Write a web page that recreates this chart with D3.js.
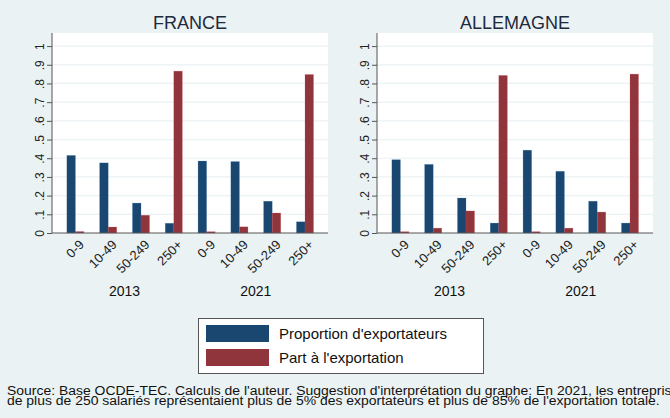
<!DOCTYPE html>
<html>
<head>
<meta charset="utf-8">
<script src="https://cdn.jsdelivr.net/npm/d3@7"></script>
<style>
  body { margin: 0; background: #eaf2f3; }
  svg { display: block; font-family: 'Liberation Sans', Arial, sans-serif; }
</style>
</head>
<body>
<div class="chart"></div>
<script>
// categories
const sizes = ['0-9', '10-49', '50-249', '250+']
const years = ['2013', '2021']
const countries = ['FRANCE', 'ALLEMAGNE']
const series = ["Proportion d'exportateurs", "Part à l'exportation"]
const yTicks = [0, 0.1, 0.2, 0.3, 0.4, 0.5, 0.6, 0.7, 0.8, 0.9, 1]

// values, 2013 then 2021, sizes in order
const francePropExp = [0.415, 0.375, 0.16, 0.052, 0.385, 0.382, 0.17, 0.06]
const francePartExp = [0.008, 0.032, 0.095, 0.866, 0.007, 0.033, 0.107, 0.848]
const allemagnePropExp = [0.392, 0.367, 0.187, 0.053, 0.443, 0.33, 0.17, 0.053]
const allemagnePartExp = [0.007, 0.026, 0.118, 0.843, 0.007, 0.026, 0.112, 0.85]

const colors = ['#1a476f', '#90353b']
const width = 670
const height = 418

const svg = d3
  .select('.chart')
  .append('svg')
  .attr('width', width)
  .attr('height', height)

svg.append('rect').attr('width', width).attr('height', height).attr('fill', '#eaf2f3')

const plotTop = 33
const plotBottom = 233
const plotW = 276
const panels = [
  { name: countries[0], left: 52, values: [francePropExp, francePartExp] },
  { name: countries[1], left: 377, values: [allemagnePropExp, allemagnePartExp] },
]

const keys = []
years.forEach((yr) => sizes.forEach((s) => keys.push(yr + '|' + s)))

let y = d3.scaleLinear().domain([0, 1.07]).range([plotBottom, plotTop])

panels.forEach((p) => {
  const g = svg.append('g').attr('transform', `translate(${p.left},0)`)

  let x = d3
    .scaleBand()
    .domain(keys)
    .range([7, 7 + 32.8 * 8])
    .paddingInner(0.48)
    .paddingOuter(0.24)
  let xs = d3.scaleBand().domain([0, 1]).range([0, x.bandwidth()])

  // plot region
  g.append('rect')
    .attr('x', 0)
    .attr('y', plotTop)
    .attr('width', plotW)
    .attr('height', plotBottom - plotTop)
    .attr('fill', '#ffffff')

  // grid
  g.append('g')
    .selectAll('line')
    .data(yTicks.slice(1))
    .enter()
    .append('line')
    .attr('x1', 0)
    .attr('x2', plotW)
    .attr('y1', (d) => y(d))
    .attr('y2', (d) => y(d))
    .style('stroke', '#eaf2f3')
    .style('stroke-width', 1.2)

  // bars
  p.values.forEach((vals, si) => {
    g.append('g')
      .selectAll('rect')
      .data(vals)
      .enter()
      .append('rect')
      .attr('x', (d, i) => x(keys[i]) + xs(si))
      .attr('y', (d) => y(d))
      .attr('width', xs.bandwidth())
      .attr('height', (d) => y(0) - y(d))
      .style('fill', colors[si])
      .style('stroke', d3.color(colors[si]).brighter(1.2))
      .style('stroke-opacity', 0.35)
      .style('stroke-width', 0.6)
  })

  // y axis
  const yAxis = g
    .append('g')
    .attr('class', 'y-axis')
    .call(
      d3
        .axisLeft(y)
        .tickValues(yTicks)
        .tickSize(5)
        .tickPadding(0)
        .tickFormat((d) => (d === 0 ? '0' : d === 1 ? '1' : d3.format('.1f')(d).replace(/^0/, '')))
    )
  yAxis.select('.domain').attr('d', `M0,${plotTop}V${plotBottom}`).style('stroke', '#555')
  yAxis.selectAll('.tick line').style('stroke', '#555')
  yAxis
    .selectAll('.tick text')
    .attr('transform', 'translate(-12,0) rotate(-90)')
    .attr('x', 0)
    .attr('dy', '0.35em')
    .attr('text-anchor', 'middle')
    .style('font-size', '12px')
    .style('fill', '#222')
    .style('font-family', "'Liberation Sans', Arial, sans-serif")

  // x axis line
  g.append('line')
    .attr('x1', 0)
    .attr('x2', plotW)
    .attr('y1', plotBottom)
    .attr('y2', plotBottom)
    .style('stroke', '#555')
    .style('stroke-width', 1)

  // size labels
  g.append('g')
    .selectAll('text')
    .data(keys)
    .enter()
    .append('text')
    .attr('transform', (d) => `translate(${x(d) + x.bandwidth() / 2 + 3},${plotBottom + 6}) rotate(-45)`)
    .attr('text-anchor', 'end')
    .attr('dy', '0.7em')
    .style('font-size', '13px')
    .style('fill', '#222')
    .text((d) => d.split('|')[1])

  // year labels
  years.forEach((yr) => {
    const first = x(yr + '|' + sizes[0]) + x.bandwidth() / 2
    const last = x(yr + '|' + sizes[sizes.length - 1]) + x.bandwidth() / 2
    g.append('text')
      .attr('x', (first + last) / 2)
      .attr('y', 296)
      .attr('text-anchor', 'middle')
      .style('font-size', '14px')
      .style('fill', '#111')
      .text(yr)
  })

  // title
  g.append('text')
    .attr('x', plotW / 2)
    .attr('y', 28.5)
    .attr('text-anchor', 'middle')
    .style('font-size', '18px')
    .style('fill', '#1e2a3e')
    .text(p.name)
})

// legend
const legend = svg.append('g').attr('transform', 'translate(198,318)')
legend
  .append('rect')
  .attr('x', 0.5)
  .attr('y', 0.5)
  .attr('width', 285)
  .attr('height', 55)
  .attr('fill', '#ffffff')
  .style('stroke', '#555')
  .style('stroke-width', 1)

series.forEach((s, i) => {
  legend
    .append('rect')
    .attr('x', 8)
    .attr('y', 7 + i * 24)
    .attr('width', 63)
    .attr('height', 17)
    .style('fill', colors[i])
  legend
    .append('text')
    .attr('x', 81)
    .attr('y', 21 + i * 24)
    .style('font-size', '15px')
    .style('fill', '#111')
    .text(s)
})

// note, stretched horizontally so that the second line ends where the reference does
const notes = [
  "Source: Base OCDE-TEC. Calculs de l'auteur. Suggestion d'interprétation du graphe: En 2021, les entreprises",
  "de plus de 250 salariés représentaient plus de 5% des exportateurs et plus de 85% de l'exportation totale.",
]
const noteG = svg.append('g')
const noteTexts = notes.map((t, i) =>
  noteG
    .append('text')
    .attr('x', 0)
    .attr('y', 395 + i * 10.5)
    .style('font-size', '12.5px')
    .style('fill', '#111')
    .text(t)
)
const w2 = noteTexts[1].node().getComputedTextLength()
const k = 653 / w2
noteG.attr('transform', `translate(7,0) scale(${k},1)`)
</script>
</body>
</html>
